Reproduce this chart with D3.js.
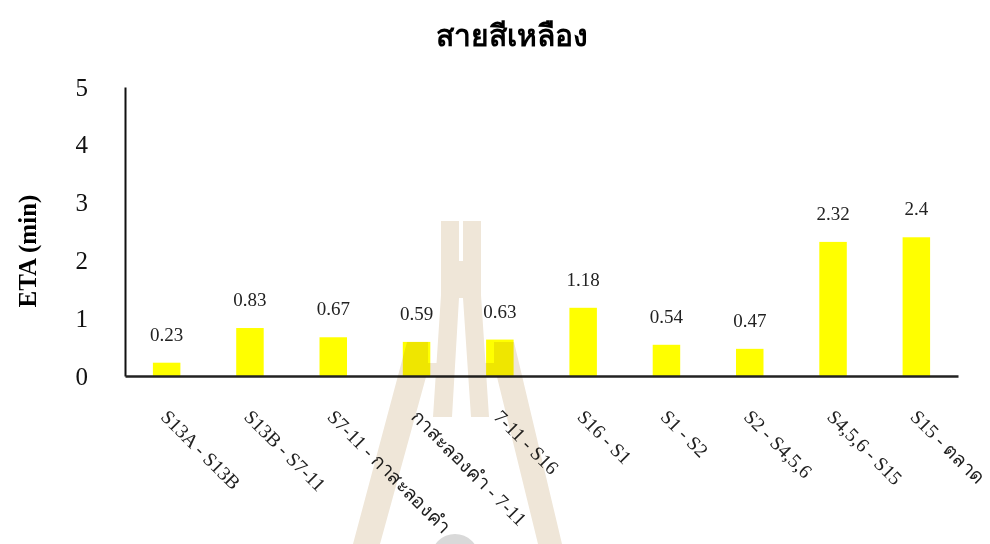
<!DOCTYPE html>
<html>
<head>
<meta charset="utf-8">
<script src="https://cdn.jsdelivr.net/npm/d3@7"></script>
<style>
  html, body { margin: 0; padding: 0; background: #fff; }
  svg { display: block; font-family: "Liberation Serif", "Times New Roman", serif; }
</style>
</head>
<body>
<svg id="chart" width="990" height="544"></svg>
<script>
// Travel time between stops on the yellow line
const segments = ["S13A - S13B", "S13B - S7-11", "S7-11 - กาสะลองคำ", "กาสะลองคำ - 7-11", "7-11 - S16",
                  "S16 - S1", "S1 - S2", "S2 - S4,5,6", "S4,5,6 - S15", "S15 - ตลาด"];
const etaMinutes = [0.23, 0.83, 0.67, 0.59, 0.63, 1.18, 0.54, 0.47, 2.32, 2.4];
const yTicks = [0, 1, 2, 3, 4, 5];
const chartTitle = "สายสีเหลือง";
const yTitle = "ETA (min)";

const svg = d3.select("#chart");
const margin = { left: 125, right: 32, top: 87, bottom: 168 };
const W = 990, H = 544;

const x = d3.scaleBand().domain(segments).range([margin.left, W - margin.right]).paddingInner(0.67).paddingOuter(0.335);
const y = d3.scaleLinear().domain([0, 5]).range([H - margin.bottom, margin.top]);

// Faint emblem watermark over the plot
const mark = svg.append("g").attr("fill", "#efe6d8");
const emblemShapes = [
  // upper pillars joined by a crossbar
  [[441,221],[459,221],[459,261],[463,261],[463,221],[481,221],[481,295],[489,417],[471,417],[463,298],[459,298],[452,417],[433,417],[441,295]],
  // left leg with its foot
  [[407,342],[428,342],[428,363],[438,363],[438,377],[426,377],[380,544],[353,544]],
  // right leg with its foot
  [[494,342],[514,342],[562,544],[538,544],[497,377],[484,377],[484,363],[494,363]]
];

// Title
svg.append("text")
  .attr("x", 512).attr("y", 46)
  .attr("text-anchor", "middle")
  .attr("font-size", 30).attr("font-weight", "bold")
  .text(chartTitle);

// Y axis title
svg.append("text")
  .attr("transform", `translate(36,251) rotate(-90)`)
  .attr("text-anchor", "middle")
  .attr("font-size", 25).attr("font-weight", "bold")
  .text(yTitle);

// Bars
svg.append("g").selectAll("rect")
  .data(etaMinutes)
  .join("rect")
  .attr("x", (d, i) => x(segments[i]))
  .attr("width", x.bandwidth())
  .attr("y", d => y(d))
  .attr("height", d => y(0) - y(d))
  .attr("fill", "#ffff00");

// Value labels
svg.append("g").selectAll("text")
  .data(etaMinutes)
  .join("text")
  .attr("x", (d, i) => x(segments[i]) + x.bandwidth() / 2)
  .attr("y", d => y(d) - 22)
  .attr("text-anchor", "middle")
  .attr("font-size", 19)
  .attr("fill", "#222")
  .text(d => d);

// Y axis
const yAxis = svg.append("g")
  .attr("transform", `translate(${margin.left},0)`)
  .call(d3.axisLeft(y).tickValues(yTicks).tickSize(0).tickPadding(37).tickFormat(d3.format("d")));
yAxis.select(".domain").attr("stroke", "#111").attr("stroke-width", 2);
yAxis.selectAll("text").attr("font-size", 25).attr("fill", "#111")
  .attr("font-family", "\"Liberation Serif\", serif");

// X axis
const xAxis = svg.append("g")
  .attr("transform", `translate(0,${y(0)})`)
  .call(d3.axisBottom(x).tickSize(0).tickFormat(""));
xAxis.select(".domain").attr("stroke", "#222").attr("stroke-width", 2.5);

// Category labels, slanted
svg.append("g").selectAll("text")
  .data(segments)
  .join("text")
  .attr("transform", d => `translate(${x(d) + x.bandwidth() / 2 - 7},${y(0) + 42}) rotate(45)`)
  .attr("font-size", 19.5)
  .attr("fill", "#222")
  .text(d => d);

// Emblem drawn last, blended so marks show through it
mark.raise().style("mix-blend-mode", "multiply");
mark.selectAll("polygon").data(emblemShapes).join("polygon")
  .attr("points", d => d.map(p => p.join(",")).join(" "));
svg.append("circle").attr("cx", 455).attr("cy", 558).attr("r", 24)
  .attr("fill", "#d9d9d9").style("mix-blend-mode", "multiply");
</script>
</body>
</html>
